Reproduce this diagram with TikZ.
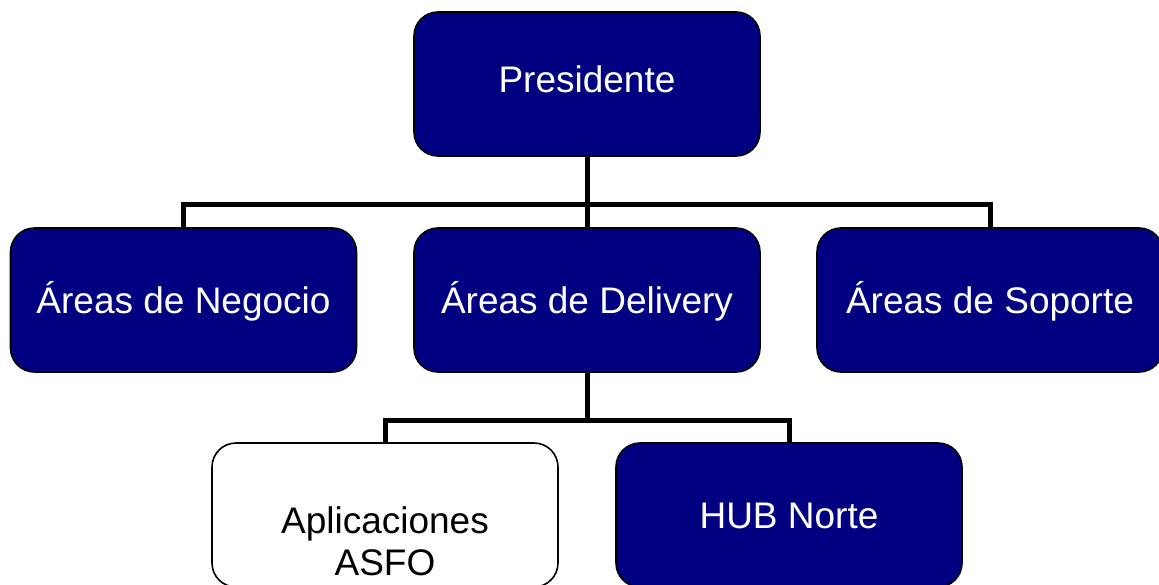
\documentclass[tikz,border=0pt]{standalone}
\usepackage{fontspec}
\setmainfont{Liberation Sans}
\usetikzlibrary{backgrounds}
\definecolor{navy}{RGB}{0,0,128}
\begin{document}
\begin{tikzpicture}[x=1pt,y=-1pt,
  box/.style={draw=black,line width=1.6pt,rounded corners=24pt,fill=navy,text=white,
    minimum width=346pt,minimum height=144pt,inner sep=0pt,
    font=\fontsize{37}{42}\selectfont,text height=26.5pt,text depth=0pt},
  wbox/.style={box,fill=white,text=black},
  conn/.style={line width=5pt,line join=miter}]
\useasboundingbox (0,0) rectangle (1159,584);

\node[box] (pres) at (587,84) {\raisebox{5pt}{Presidente}};

\node[box] (neg) at (183.5,300) {Áreas de Negocio};
\node[box] (del) at (587,300) {Áreas de Delivery};
\node[box] (sop) at (990,300) {Áreas de Soporte};

\node[wbox] (asfo) at (385,515) {};
\node[font=\fontsize{37}{42}\selectfont,align=center,inner sep=0pt] (asfotxt) at (385,541) {Aplicaciones\\ASFO};
\node[box] (hub) at (789,515) {HUB Norte};

\coordinate (bus1) at (587,204.5);
\coordinate (bus2) at (587,420.5);

\begin{scope}[on background layer]
\draw[conn] (pres.south) -- (del.north);
\draw[conn] (neg.north) |- (bus1) -| (sop.north);
\draw[conn] (del.south) -- (bus2);
\draw[conn] (asfo.north) |- (bus2) -| (hub.north);
\end{scope}
\end{tikzpicture}
\end{document}
